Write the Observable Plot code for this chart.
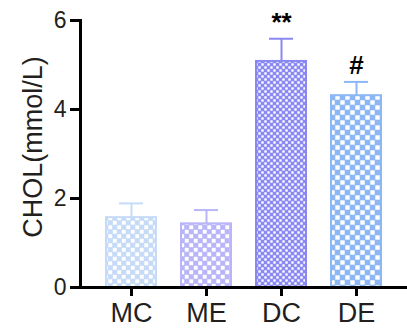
<!DOCTYPE html>
<html>
<head>
<meta charset="utf-8">
<script src="https://cdn.jsdelivr.net/npm/d3@7"></script>
<script src="https://cdn.jsdelivr.net/npm/@observablehq/plot@0.6"></script>
<style>
  html, body { margin: 0; padding: 0; background: #fff; }
  #chart { width: 407px; height: 328px; }
</style>
</head>
<body>
<div id="chart"></div>
<script>
// ---- data ----
const groups = ["MC", "ME", "DC", "DE"];
const means = [1.57, 1.43, 5.08, 4.31];
const errors = [0.32, 0.31, 0.51, 0.31];
const sigMarks = ["", "", "**", "#"];
const yTicks = [0, 2, 4, 6];
const yLabel = "CHOL(mmol/L)";

// ---- styles ----
const barColors = ["#c6dbf7", "#b9b5f8", "#8a88f2", "#8cb7f4"];
const cellSizes = [4.5, 4.5, 3, 5];

const table = groups.map((g, i) => ({
  group: g, mean: means[i], err: errors[i], top: means[i] + errors[i], sig: sigMarks[i], idx: i
}));

const font = "'Liberation Sans', Arial, Helvetica, sans-serif";

const svg = Plot.plot({
  width: 407,
  height: 328,
  marginLeft: 80,
  marginRight: 0,
  marginTop: 20,
  marginBottom: 41,
  style: { fontFamily: font, color: "#231f20", background: "#fff", overflow: "visible" },
  x: { domain: groups, paddingInner: 1/3, paddingOuter: 0.34 },
  y: { domain: [0, 6] },
  color: { type: "identity" },
  marks: [
    Plot.barY(table, {
      x: "group", y: "mean",
      fill: d => `url(#pat${d.idx})`,
      stroke: d => barColors[d.idx],
      strokeWidth: 2
    }),
    Plot.ruleX(table, { x: "group", y1: "mean", y2: "top", stroke: d => barColors[d.idx], strokeWidth: 2 }),
    Plot.tickY(table, { x: "group", y: "top", stroke: d => barColors[d.idx], strokeWidth: 2, insetLeft: 13, insetRight: 13 }),
    Plot.text(table, { x: "group", y: "top", text: "sig", dy: -16, fontSize: 26, fontWeight: "bold", fill: "#000" }),
    Plot.axisY({ ticks: yTicks, tickFormat: d => String(d), tickSize: 10, tickPadding: 4, fontSize: 23, strokeWidth: 3, stroke: "#000", label: null }),
    Plot.axisX({ tickSize: 9, tickPadding: 6, fontSize: 27, strokeWidth: 3, stroke: "#000", label: null }),
    Plot.frame({ anchor: "left", stroke: "#000", strokeWidth: 3 }),
    Plot.frame({ anchor: "bottom", stroke: "#000", strokeWidth: 3 }),
    Plot.text([yLabel], { frameAnchor: "left", textAnchor: "middle", lineAnchor: "middle", rotate: -90, dx: -47, dy: -7, fontSize: 27, fill: "#231f20" })
  ]
});

// pattern definitions
const ns = "http://www.w3.org/2000/svg";
const defs = document.createElementNS(ns, "defs");
barColors.forEach((c, i) => {
  const s = cellSizes[i];
  const p = document.createElementNS(ns, "pattern");
  p.setAttribute("id", `pat${i}`);
  p.setAttribute("patternUnits", "userSpaceOnUse");
  p.setAttribute("width", 2 * s);
  p.setAttribute("height", 2 * s);
  const bg = document.createElementNS(ns, "rect");
  bg.setAttribute("width", 2 * s);
  bg.setAttribute("height", 2 * s);
  bg.setAttribute("fill", c);
  p.appendChild(bg);
  [[0, 0], [s, s]].forEach(([x, y]) => {
    const r = document.createElementNS(ns, "rect");
    r.setAttribute("x", x + 0.3);
    r.setAttribute("y", y + 0.3);
    r.setAttribute("width", s - 0.6);
    r.setAttribute("height", s - 0.6);
    r.setAttribute("fill", "#fff");
    p.appendChild(r);
  });
  defs.appendChild(p);
});
svg.insertBefore(defs, svg.firstChild);

document.getElementById("chart").appendChild(svg);
</script>
</body>
</html>
